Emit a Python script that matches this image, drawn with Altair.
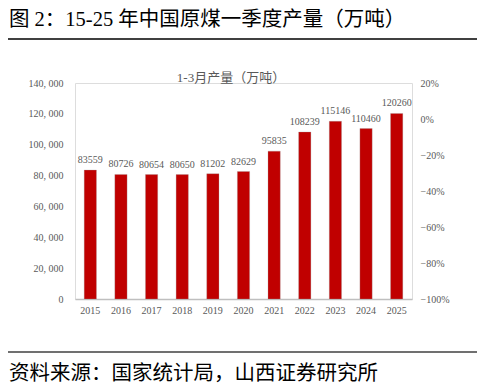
import altair as alt
import pandas as pd

years = ["2015", "2016", "2017", "2018", "2019", "2020", "2021", "2022", "2023", "2024", "2025"]
output = [83559, 80726, 80654, 80650, 81202, 82629, 95835, 108239, 115146, 110460, 120260]
pct_domain = [-1.0, 0.2]

main_title = "图 2：15-25 年中国原煤一季度产量（万吨）"
chart_title = "1-3月产量（万吨）"
source_text = "资料来源：国家统计局，山西证券研究所"

df = pd.DataFrame({"year": years, "value": output})
pct_df = pd.DataFrame({"year": [years[0], years[-1]], "pct": pct_domain})
one = pd.DataFrame({"a": [0]})

SERIF = "Times New Roman, Liberation Serif, Noto Sans CJK SC"
GRAY = "#595959"

x_axis = alt.Axis(labelAngle=0, domainColor="#bfbfbf", domainWidth=1.5, ticks=False,
                  labelPadding=6, labelFont=SERIF, labelFontSize=10, labelColor=GRAY,
                  labelOverlap=False)
x_scale = alt.Scale(paddingInner=0.6, paddingOuter=0.3)
y_axis = alt.Axis(values=list(range(0, 140001, 20000)), grid=False, domain=False, ticks=False,
                  labelPadding=12, labelFont=SERIF, labelFontSize=10, labelColor=GRAY,
                  labelOverlap=False, labelFlush=False,
                  labelExpr="replace(format(datum.value, ','), ',', ', ')")
y_scale = alt.Scale(domain=[0, 140000], nice=False)

bars = alt.Chart(df).mark_bar(color="#C00000", stroke="#a0a0a0", strokeWidth=0.3).encode(
    x=alt.X("year:N", sort=years, title=None, scale=x_scale, axis=x_axis),
    y=alt.Y("value:Q", title=None, scale=y_scale, axis=y_axis),
)
labels = alt.Chart(df).mark_text(baseline="bottom", dy=-5, font=SERIF, fontSize=10, color=GRAY).encode(
    x=alt.X("year:N", sort=years, title=None, scale=x_scale, axis=x_axis),
    y=alt.Y("value:Q", title=None, scale=y_scale, axis=y_axis),
    text=alt.Text("value:Q", format="d"),
)
left = alt.layer(bars, labels)

right = alt.Chart(pct_df).mark_tick(opacity=0).encode(
    x=alt.X("year:N", sort=years, title=None, scale=x_scale, axis=x_axis),
    y=alt.Y("pct:Q", title=None, scale=alt.Scale(domain=pct_domain, nice=False),
            axis=alt.Axis(orient="right", format=".0%", values=[-1, -0.8, -0.6, -0.4, -0.2, 0, 0.2],
                          grid=False, domain=False, ticks=False, labelPadding=8,
                          labelOverlap=False, labelFlush=False,
                          labelFont=SERIF, labelFontSize=10, labelColor=GRAY)),
)

base = alt.layer(left, right).resolve_scale(y="independent")

ctitle = alt.Chart(one).mark_text(font=SERIF, fontSize=13, color=GRAY, baseline="middle").encode(
    x=alt.value(156), y=alt.value(-5), text=alt.value(chart_title))
mtitle = alt.Chart(one).mark_text(font=SERIF, fontSize=20.5, color="#000000", align="left", baseline="middle").encode(
    x=alt.value(-66), y=alt.value(-63), text=alt.value(main_title))
topline = alt.Chart(one).mark_rule(color="#404040", strokeWidth=2).encode(
    x=alt.value(-67), x2=alt.value(405), y=alt.value(-44))
botline = alt.Chart(one).mark_rule(color="#404040", strokeWidth=1.5).encode(
    x=alt.value(-67), x2=alt.value(405), y=alt.value(269))
src = alt.Chart(one).mark_text(font=SERIF, fontSize=20.5, color="#000000", align="left", baseline="middle").encode(
    x=alt.value(-66), y=alt.value(290.7), text=alt.value(source_text))

chart = alt.layer(base, ctitle, mtitle, topline, botline, src).properties(
    width=337, height=216,
    autosize=alt.AutoSizeParams(type="none"),
    padding={"left": 67, "top": 75, "right": 65, "bottom": 85},
).configure_view(stroke=None).configure(background="white")

chart.save("out.html", embed_options={"renderer": "svg", "actions": False})
